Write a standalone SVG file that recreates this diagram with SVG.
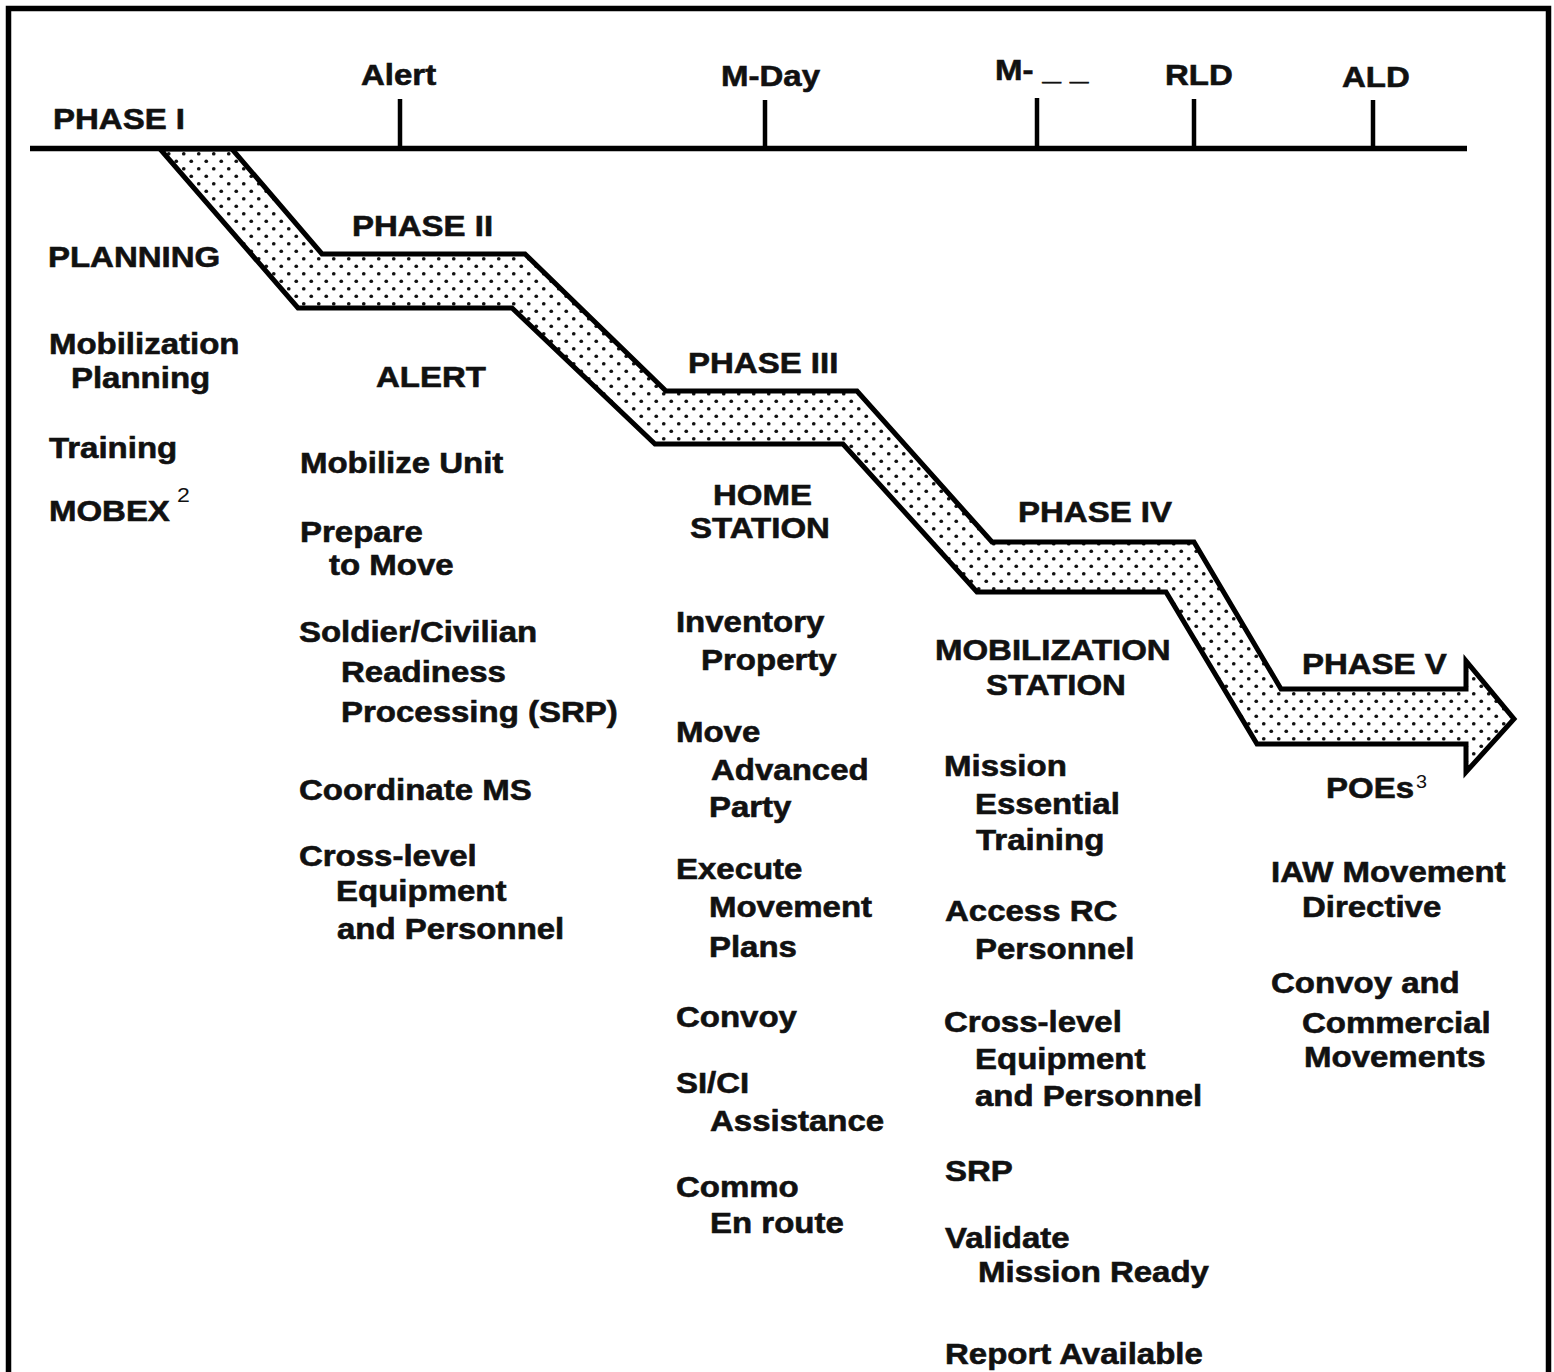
<svg xmlns="http://www.w3.org/2000/svg" width="1554" height="1372" viewBox="0 0 1554 1372">
<defs>
<pattern id="dots" patternUnits="userSpaceOnUse" width="15" height="15">
<rect width="15" height="15" fill="#fff"/>
<circle cx="3.75" cy="3.75" r="1.85" fill="#111"/>
<circle cx="11.25" cy="11.25" r="1.85" fill="#111"/>
</pattern>
<style>
.t { font-family: "Liberation Sans", Arial, Helvetica, sans-serif; font-weight: bold; font-size: 30px; fill: #111; stroke: #111; stroke-width: 0.6px; }
.sup { font-family: "Liberation Sans", Arial, Helvetica, sans-serif; font-weight: normal; fill: #111; }
.ln { stroke: #000; fill: none; }
</style>
</defs>
<rect x="0" y="0" width="1554" height="1372" fill="#fff"/>
<rect id="frame" x="8.5" y="8.5" width="1540" height="1420" fill="none" stroke="#000" stroke-width="5.5"/>

<g id="connectors">
<polygon id="band" points="160,149 232,149 322,254 525,254 666,391 857,391 992,542 1194,542 1281,689 1466,689 1466,661 1514,719 1466,772 1466,744 1257,744 1166,592 977,592 843,444 655,444 512,308 298,308" fill="url(#dots)" stroke="#000" stroke-width="5" stroke-linejoin="miter"/>
<g id="timeline" class="ln">
<line x1="30" y1="148.5" x2="1467" y2="148.5" stroke-width="5.5"/>
<line x1="400" y1="99" x2="400" y2="148" stroke-width="4.5"/>
<line x1="765" y1="100" x2="765" y2="148" stroke-width="4.5"/>
<line x1="1037" y1="98" x2="1037" y2="148" stroke-width="4.5"/>
<line x1="1194" y1="99" x2="1194" y2="148" stroke-width="4.5"/>
<line x1="1373" y1="100" x2="1373" y2="148" stroke-width="4.5"/>
</g>
</g>

<g transform="scale(1.1,1)">
<g id="milestones">
<text class="t" x="328.2" y="85">Alert</text>
<text class="t" x="655.5" y="86">M-Day</text>
<text class="t" x="904.5" y="80">M- _ _</text>
<text class="t" x="1059.1" y="85">RLD</text>
<text class="t" x="1220" y="87">ALD</text>
</g>
<g id="phase1">
<text class="t" x="48.2" y="129">PHASE I</text>
<text class="t" x="43.6" y="267">PLANNING</text>
<text class="t" x="44.5" y="354">Mobilization</text>
<text class="t" x="64.5" y="388">Planning</text>
<text class="t" x="44.5" y="458">Training</text>
<text class="t" x="44.5" y="521">MOBEX</text>
<text class="sup" x="160.9" y="502" font-size="21">2</text>
</g>
<g id="phase2">
<text class="t" x="320" y="236">PHASE II</text>
<text class="t" x="341.8" y="387">ALERT</text>
<text class="t" x="272.7" y="473">Mobilize Unit</text>
<text class="t" x="272.7" y="542">Prepare</text>
<text class="t" x="299.1" y="575">to Move</text>
<text class="t" x="271.8" y="642">Soldier/Civilian</text>
<text class="t" x="310" y="682">Readiness</text>
<text class="t" x="310" y="722">Processing (SRP)</text>
<text class="t" x="271.8" y="800">Coordinate MS</text>
<text class="t" x="271.8" y="866">Cross-level</text>
<text class="t" x="305.5" y="901">Equipment</text>
<text class="t" x="306.4" y="939">and Personnel</text>
</g>
<g id="phase3">
<text class="t" x="625.5" y="373">PHASE III</text>
<text class="t" x="648.2" y="505">HOME</text>
<text class="t" x="627.3" y="538">STATION</text>
<text class="t" x="614.5" y="632">Inventory</text>
<text class="t" x="637.3" y="670">Property</text>
<text class="t" x="614.5" y="742">Move</text>
<text class="t" x="646.4" y="780">Advanced</text>
<text class="t" x="644.5" y="817">Party</text>
<text class="t" x="614.5" y="879">Execute</text>
<text class="t" x="644.5" y="917">Movement</text>
<text class="t" x="644.5" y="957">Plans</text>
<text class="t" x="614.5" y="1027">Convoy</text>
<text class="t" x="614.5" y="1093">SI/CI</text>
<text class="t" x="645.5" y="1131">Assistance</text>
<text class="t" x="614.5" y="1197">Commo</text>
<text class="t" x="645.5" y="1233">En route</text>
</g>
<g id="phase4">
<text class="t" x="925.5" y="522">PHASE IV</text>
<text class="t" x="850" y="660">MOBILIZATION</text>
<text class="t" x="896.4" y="695">STATION</text>
<text class="t" x="858.2" y="776">Mission</text>
<text class="t" x="886.4" y="814">Essential</text>
<text class="t" x="887.3" y="850">Training</text>
<text class="t" x="859.1" y="921">Access RC</text>
<text class="t" x="886.4" y="959">Personnel</text>
<text class="t" x="858.2" y="1032">Cross-level</text>
<text class="t" x="886.4" y="1069">Equipment</text>
<text class="t" x="886.4" y="1106">and Personnel</text>
<text class="t" x="859.1" y="1181">SRP</text>
<text class="t" x="859.1" y="1248">Validate</text>
<text class="t" x="889.1" y="1282">Mission Ready</text>
<text class="t" x="859.1" y="1364">Report Available</text>
</g>
<g id="phase5">
<text class="t" x="1183.6" y="674">PHASE V</text>
<text class="t" x="1205.5" y="798">POEs</text>
<text class="sup" x="1287.3" y="788" font-size="18">3</text>
<text class="t" x="1155.5" y="882">IAW Movement</text>
<text class="t" x="1183.6" y="917">Directive</text>
<text class="t" x="1155.5" y="993">Convoy and</text>
<text class="t" x="1183.6" y="1033">Commercial</text>
<text class="t" x="1185.5" y="1067">Movements</text>
</g>
</g>
</svg>
